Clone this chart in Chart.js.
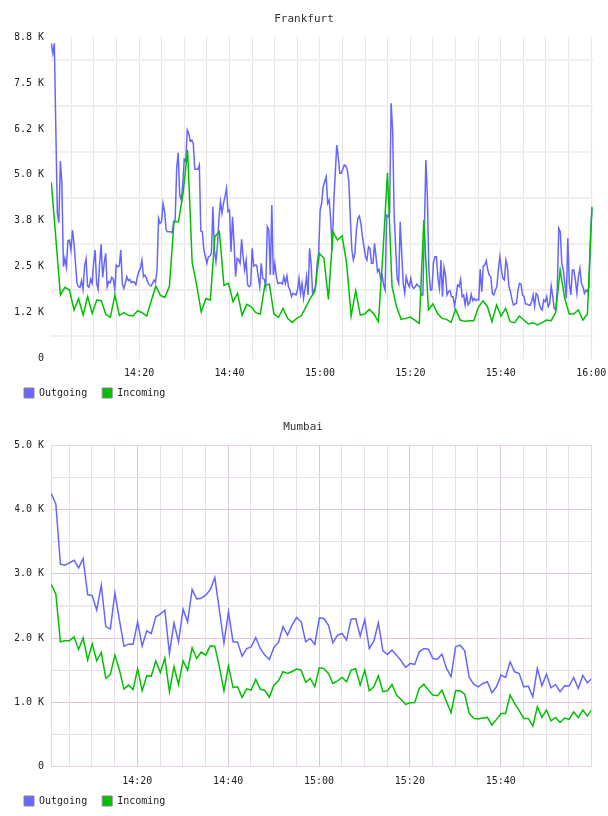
<!DOCTYPE html>
<html>
<head>
<meta charset="utf-8">
<script src="https://cdn.jsdelivr.net/npm/chart.js@4.4.1/dist/chart.umd.min.js"></script>
<style>
  html, body { margin: 0; padding: 0; background: #fff; }
  canvas { display: block; }
</style>
</head>
<body>
<canvas id="frankfurt" width="608" height="408"></canvas>
<canvas id="mumbai" width="608" height="408"></canvas>
<script>
// x values are minutes after 14:00
const gridMinutes = [5, 10, 15, 20, 25, 30, 35, 40, 45, 50, 55, 60, 65, 70, 75, 80, 85, 90, 95, 100, 105, 110, 115, 120];
const timeLabelMinutes = [20, 40, 60, 80, 100, 120];
const timeLabels = ["14:20", "14:40", "15:00", "15:20", "15:40", "16:00"];

const fraYTickValues = [0, 1250, 2500, 3750, 5000, 6250, 7500, 8750];
const fraYTickLabels = ["0", "1.2 K", "2.5 K", "3.8 K", "5.0 K", "6.2 K", "7.5 K", "8.8 K"];
const mumYTickValues = [0, 1000, 2000, 3000, 4000, 5000];
const mumYTickLabels = ["0", "1.0 K", "2.0 K", "3.0 K", "4.0 K", "5.0 K"];

// Frankfurt outgoing, one sample every 20 s
const fraOutStart = 0.57;
const fraOutStep = 0.3341;
const fraOutgoing = [
  8577, 8305, 8577, 6220, 3953, 3699, 5377, 4769, 2502, 2729,
  2484, 3210, 3228, 2956, 3500, 3137, 2593, 2049, 1958, 1940,
  2122, 1886, 2502, 2711, 1977, 1940, 2158, 2049, 2593, 2956,
  2049, 1886, 2593, 3110, 2212, 2593, 2865, 1958, 2094, 2067,
  2212, 2158, 1886, 2548, 2502, 2521, 2956, 2049, 1913, 2049,
  2230, 2122, 2158, 2067, 2094, 2076, 2013, 2230, 2385, 2457,
  2684, 2230, 2276, 2185, 2076, 2004, 1977, 2049, 2140, 2076,
  2412, 3817, 3681, 3727, 4225, 3999, 3500, 3454, 3454, 3454,
  3427, 3727, 3772, 5177, 5603, 4452, 4316, 4724, 5422, 5359,
  6220, 6129, 5921, 5948, 5857, 5159, 5150, 5150, 5268, 3473,
  3454, 2956, 2775, 2593, 2775, 2793, 2865, 4135, 2956, 2638,
  3092, 3817, 4271, 3953, 4225, 4407, 4633, 3999, 4044, 2911,
  3863,
  3137, 2230, 2729, 2684, 2593, 3246, 2775, 2412, 2684, 2004,
  1958, 2004, 3001, 2521, 2548, 2539, 2230, 1958, 2593, 2185,
  2158, 1958, 3591, 3500, 2276, 4180, 2276, 2593, 2230, 2049,
  2067, 2067, 2031, 2230, 2049, 2249, 1958, 1868, 1686, 1777,
  1759, 1732, 1868, 2185, 1777, 2049, 1641, 1913, 2230, 1732,
  3001, 2593, 1777, 1868, 1958, 2593, 2865, 4044, 4225, 4679,
  4815, 4951, 4225, 4316, 3772, 2956, 4225, 5041, 5812, 5495,
  5041, 5041, 5150, 5268, 5241, 5132, 4815, 3817, 2956, 2684,
  2865, 3500, 3817, 3881, 3681, 3318, 3047, 2775, 2684, 3047,
  3001, 2593, 2593, 3137, 2775, 2366, 2430, 2185, 2276, 2004,
  1868, 3908, 3863, 3953, 6945, 6220, 3908, 3047, 2185, 2049,
  3727, 2865, 2049, 1777, 2230, 2049, 1958, 2185, 1958,
  1913, 1958, 2031, 1977, 1958, 1732, 1732, 3500, 5404, 4407,
  2412, 1868, 1868, 2593, 2775, 2775, 2185, 1913, 2684, 1686,
  2484, 2276, 1732, 1822, 1850, 1686, 1686, 1433, 1686, 2004,
  1958, 2158, 1686, 1732, 1460, 1732, 1460, 1523, 1750, 1578,
  1641, 1578, 1614, 1596, 2430, 1822, 2521, 2548, 2666, 2412,
  2276, 2230, 1777, 1732, 1868, 1958, 2412, 2775, 2412, 2185,
  2140, 2684, 2502, 1958, 1822, 1614, 1460, 1487, 1505, 1868,
  2049, 2031, 1732, 1686, 1487, 1487, 1460, 1451, 1550, 1732,
  1433, 1777, 1732, 1505, 1369, 1324, 1596, 1550, 1686, 1414,
  1505, 1977, 1686, 1369, 1324, 1868, 3545, 3454, 2593, 2412,
  2049, 1641, 3273, 2049, 1732, 2412, 2412, 2140, 1777, 2230,
  2457, 2049, 1958, 1777, 1868, 1822, 1958, 3319, 4089,
];

// Frankfurt incoming, one sample a minute
const fraInStart = 0.57;
const fraInStep = 1.005;
const fraIncoming = [
  4796, 3273, 1732, 1940, 1868, 1324, 1632, 1188, 1686, 1233,
  1596, 1578, 1206, 1124, 1732, 1179, 1251, 1179, 1161, 1306,
  1251, 1161, 1578, 1977, 1723, 1668, 1977, 3727, 3727, 4497,
  5676, 2620, 2004, 1269, 1632, 1596, 3319, 3454, 1995, 2049,
  1550, 1777, 1179, 1478, 1414, 1251, 1215, 2004, 2031, 1215,
  1124, 1369, 1097, 988, 1097, 1161, 1396, 1641, 1822, 2865,
  2729, 1614, 3454, 3228, 3346, 2593, 1161, 1850, 1188, 1215,
  1342, 1215, 1006, 2900, 5059, 1958, 1414, 1070, 1097, 1133,
  1052, 961, 3772, 1324, 1487, 1233, 1097, 1070, 988, 1342,
  1052, 1016, 1034, 1034, 1396, 1578, 1414, 1006, 1460, 1161,
  1369, 1006, 979, 1161, 1052, 943, 979, 916, 979, 1052,
  1034, 1251, 2412, 1641, 1215, 1215, 1324, 1052, 1215, 4135,
];

// Mumbai, one sample a minute for both series
const mumStart = 1.07;
const mumStep = 1.0;
const mumOutgoing = [
  4244, 4079, 3147, 3131, 3168, 3209, 3090, 3235, 2676, 2660,
  2433, 2821, 2174, 2143, 2702, 2277, 1874, 1905, 1905, 2252,
  1874, 2112, 2070, 2329, 2371, 2433, 1760, 2236, 1941, 2448,
  2252, 2754, 2609, 2619, 2666, 2754, 2940, 2433, 1925, 2407,
  1941, 1936, 1718, 1837, 1863, 2008, 1837, 1734, 1667, 1853,
  1931, 2174, 2044, 2200, 2319, 2252, 1941, 1993, 1900, 2314,
  2303, 2200, 1925, 2044, 2070, 1967, 2293, 2303, 2029, 2288,
  1837, 1951, 2236, 1801, 1744, 1812, 1734, 1646, 1542, 1605,
  1589, 1786, 1837, 1827, 1682, 1672, 1750, 1527, 1398, 1863,
  1889, 1801, 1387, 1284, 1242, 1294, 1320, 1149, 1242, 1423,
  1387, 1630, 1475, 1449, 1242, 1253, 1087, 1527, 1258, 1439,
  1227, 1278, 1165, 1258, 1253, 1387, 1216, 1418, 1304, 1372,
];
const mumIncoming = [
  2831, 2681, 1941, 1957, 1957, 2019, 1822, 2003, 1656, 1905,
  1646, 1775, 1372, 1434, 1734, 1501, 1206, 1268, 1201, 1522,
  1180, 1413, 1408, 1641, 1465, 1687, 1165, 1553, 1278, 1646,
  1501, 1848, 1682, 1781, 1734, 1879, 1874, 1553, 1180, 1568,
  1232, 1242, 1077, 1211, 1190, 1356, 1206, 1185, 1082, 1268,
  1335, 1475, 1449, 1480, 1517, 1501, 1310, 1372, 1242, 1537,
  1527, 1449, 1294, 1335, 1387, 1320, 1501, 1522, 1268, 1501,
  1180, 1242, 1413, 1165, 1180, 1278, 1113, 1046, 968, 994,
  999, 1216, 1284, 1190, 1113, 1103, 1190, 1009, 839, 1180,
  1180, 1128, 828, 751, 740, 756, 766, 647, 735, 828,
  828, 1113, 983, 870, 751, 751, 631, 932, 766, 880,
  714, 766, 688, 756, 735, 854, 761, 880, 787, 890,
];

const MONO = '"DejaVu Sans Mono", monospace';
const OUT_COLOR = "#6666ff";
const IN_COLOR = "#00c000";
const TEXT_COLOR = "#222";

function points(values, start, step) {
  return values.map((v, i) => ({ x: start + i * step, y: v }));
}

function timeLabel(v) {
  const i = timeLabelMinutes.indexOf(v);
  return i >= 0 ? timeLabels[i] : "";
}

function mountTrafficChart(canvas, spec) {
  return new Chart(canvas, {
    type: "line",
    data: {
      datasets: [
        {
          label: "Outgoing",
          data: points(spec.outgoing, spec.outStart, spec.outStep),
          borderColor: OUT_COLOR,
          backgroundColor: OUT_COLOR,
          borderWidth: 1.5,
          pointRadius: 0,
          tension: 0,
          order: 1,
        },
        {
          label: "Incoming",
          data: points(spec.incoming, spec.inStart, spec.inStep),
          borderColor: IN_COLOR,
          backgroundColor: IN_COLOR,
          borderWidth: 1.5,
          pointRadius: 0,
          tension: 0,
          order: 0,
        },
      ],
    },
    options: {
      responsive: false,
      animation: false,
      devicePixelRatio: 1,
      layout: { padding: { left: 15, right: spec.padRight, top: 0, bottom: 0 } },
      plugins: {
        title: {
          display: true,
          text: spec.title,
          color: "#333",
          font: { family: MONO, size: 11, weight: "normal" },
          padding: { top: 13, bottom: 10.8 },
        },
        legend: {
          position: "bottom",
          align: "start",
          labels: {
            boxWidth: 10,
            boxHeight: 10,
            padding: 9,
            color: TEXT_COLOR,
            font: { family: MONO, size: 10 },
            sort: (a, b) => a.datasetIndex - b.datasetIndex,
            // trailing space widens the gap between the two entries
            generateLabels: (chart) =>
              Chart.defaults.plugins.legend.labels.generateLabels(chart).map((item) => ({
                ...item,
                text: item.text + " ",
                strokeStyle: "#888",
                lineWidth: 1,
              })),
          },
        },
        tooltip: { enabled: false },
      },
      scales: {
        x: {
          type: "linear",
          bounds: "data",
          min: spec.xMin,
          max: spec.xMax,
          afterBuildTicks: (s) => {
            s.ticks = spec.xTicks.map((v) => ({ value: v }));
          },
          afterFit: (s) => {
            s.height = 20.3;
            s.paddingLeft = 0;
            s.paddingRight = 0;
          },
          ticks: {
            autoSkip: false,
            maxRotation: 0,
            padding: 9,
            color: TEXT_COLOR,
            font: { family: MONO, size: 10 },
            callback: (v) => timeLabel(v),
          },
          grid: { drawTicks: false, color: spec.xGridColor, lineWidth: 1 },
          border: { display: false },
        },
        y: {
          min: 0,
          max: spec.yMax,
          afterFit: (s) => {
            s.width = 36;
            s.paddingTop = 0;
            s.paddingBottom = 0;
          },
          ticks: {
            stepSize: spec.yStep,
            padding: 7,
            color: TEXT_COLOR,
            font: { family: MONO, size: 10 },
            callback: (v) => {
              const i = spec.yTickValues.indexOf(v);
              return i >= 0 ? spec.yTickLabels[i] : "";
            },
          },
          grid: { drawTicks: false, color: spec.yGridColor, lineWidth: spec.yGridWidth },
          border: { display: false },
        },
      },
    },
  });
}

mountTrafficChart(document.getElementById("frankfurt"), {
  title: "Frankfurt",
  outgoing: fraOutgoing, outStart: fraOutStart, outStep: fraOutStep,
  incoming: fraIncoming, inStart: fraInStart, inStep: fraInStep,
  xMin: 0.5, xMax: 120.4, padRight: 15,
  xTicks: gridMinutes,
  xGridColor: "#e6e6e6",
  yMax: 8750, yStep: 625,
  yTickValues: fraYTickValues, yTickLabels: fraYTickLabels,
  // minor lines only, between the labelled values
  yGridColor: (ctx) => (ctx.tick.value % 1250 === 0 ? "rgba(0,0,0,0)" : "#efefef"),
  yGridWidth: 2,
});

const mumMajor = "#dcc6dc";
const mumMinor = "#e8e0e8";
const mumXMin = 1.0;
const mumXMax = 119.9;

mountTrafficChart(document.getElementById("mumbai"), {
  title: "Mumbai",
  outgoing: mumOutgoing, outStart: mumStart, outStep: mumStep,
  incoming: mumIncoming, inStart: mumStart, inStep: mumStep,
  xMin: mumXMin, xMax: mumXMax, padRight: 16.9,
  xTicks: [mumXMin, ...gridMinutes.filter((m) => m < mumXMax), mumXMax],
  xGridColor: (ctx) => {
    const v = ctx.tick.value;
    if (v === mumXMin || v === mumXMax) return "#e8d4e8";
    return v % 20 === 0 ? mumMajor : mumMinor;
  },
  yMax: 5000, yStep: 500,
  yTickValues: mumYTickValues, yTickLabels: mumYTickLabels,
  yGridColor: (ctx) => {
    const v = ctx.tick.value;
    if (v === 2500) return "#ececec";
    if (v === 0 || v === 5000) return "#e8d4e8";
    return v % 1000 === 0 ? mumMajor : mumMinor;
  },
  yGridWidth: (ctx) => (ctx.tick.value === 2500 ? 2 : 1),
});
</script>
</body>
</html>
